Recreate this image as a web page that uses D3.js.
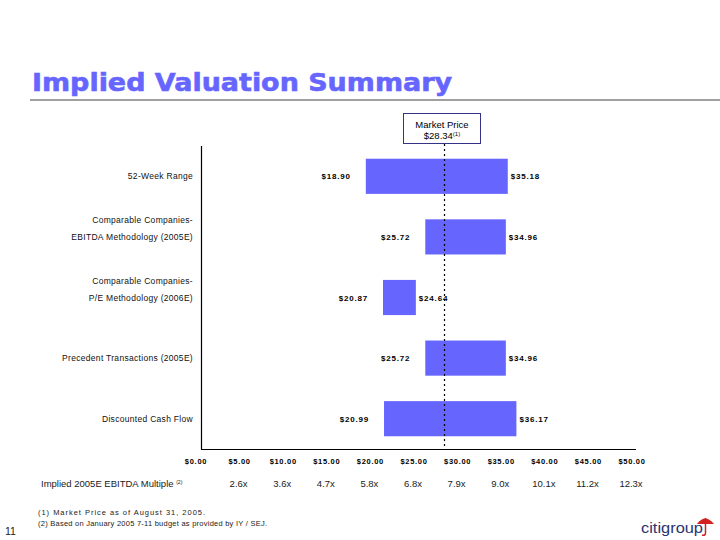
<!DOCTYPE html>
<html><head><meta charset="utf-8">
<script src="https://cdn.jsdelivr.net/npm/d3@7"></script>
<style>body{margin:0;background:#fff;} svg{display:block;font-family:"Liberation Sans",Arial,sans-serif;}</style>
</head><body><svg id="c" width="720" height="540"></svg>
<script>
const categories = [
  ["52-Week Range"],
  ["Comparable Companies-", "EBITDA Methodology (2005E)"],
  ["Comparable Companies-", "P/E Methodology (2006E)"],
  ["Precedent Transactions (2005E)"],
  ["Discounted Cash Flow"]
];
const lowValues  = [18.90, 25.72, 20.87, 25.72, 20.99];
const highValues = [35.18, 34.96, 24.64, 34.96, 36.17];
const marketPrice = 28.34;
const tickValues = [0, 5, 10, 15, 20, 25, 30, 35, 40, 45, 50];
const multiples = ["", "2.6x", "3.6x", "4.7x", "5.8x", "6.8x", "7.9x", "9.0x", "10.1x", "11.2x", "12.3x"];
const footnotes = ["(1) Market Price as of August 31, 2005.", "(2) Based on January 2005 7-11 budget as provided by IY / SEJ."];
const footnoteWidths = [167, 229];

const svg = d3.select("#c");
const blue = "#6666ff";
const x = d3.scaleLinear().domain([0, 50]).range([201, 637]);
const y = d3.scaleBand().domain(d3.range(categories.length)).range([146, 449]).paddingInner(0.42).paddingOuter(0.21);

// Title
svg.append("text").attr("x", 32).attr("y", 91).attr("fill", blue)
  .attr("font-family", "'DejaVu Sans', Arial, sans-serif").attr("font-weight", "bold")
  .attr("font-size", 25).attr("textLength", 420).attr("lengthAdjust", "spacingAndGlyphs")
  .attr("stroke", blue).attr("stroke-width", 0.6)
  .text("Implied Valuation Summary");
svg.append("rect").attr("x", 30).attr("y", 99).attr("width", 690).attr("height", 2).attr("fill", "#a0a0a0");

// Bars
const g = svg.append("g");
categories.forEach((c, i) => {
  const by = y(i), bh = y.bandwidth();
  g.append("rect").attr("x", x(lowValues[i])).attr("y", by).attr("width", x(highValues[i]) - x(lowValues[i])).attr("height", bh).attr("fill", blue);
  g.append("text").attr("x", x(lowValues[i]) - 15).attr("y", by + bh / 2 + 3).attr("text-anchor", "end")
    .attr("font-size", 8).attr("font-weight", "bold").attr("letter-spacing", 0.8).text("$" + lowValues[i].toFixed(2));
  g.append("text").attr("x", x(highValues[i]) + 3).attr("y", by + bh / 2 + 3).attr("text-anchor", "start")
    .attr("font-size", 8).attr("font-weight", "bold").attr("letter-spacing", 0.8).text("$" + highValues[i].toFixed(2));
  const cy = by + bh / 2 + 3;
  c.forEach((line, j) => {
    g.append("text").attr("x", 193).attr("y", cy - (c.length - 1 - j) * 17).attr("text-anchor", "end")
      .attr("font-size", 8.5).attr("letter-spacing", 0.3).attr("fill", "#111").text(line);
  });
});

// Axes lines
svg.append("line").attr("x1", 201.5).attr("x2", 201.5).attr("y1", 146).attr("y2", 449.5).attr("stroke", "#000").attr("stroke-width", 1.2);
svg.append("line").attr("x1", 201).attr("x2", 636).attr("y1", 449.5).attr("y2", 449.5).attr("stroke", "#000").attr("stroke-width", 1.2);

// Market price line and box
const mx = Math.round(x(marketPrice)) - 3.5;
svg.append("line").attr("x1", mx).attr("x2", mx).attr("y1", 144).attr("y2", 449).attr("stroke", "#000").attr("stroke-width", 1.2).attr("stroke-dasharray", "2,3");
svg.append("rect").attr("x", 403.5).attr("y", 113.5).attr("width", 77).attr("height", 30).attr("fill", "#fff").attr("stroke", "#333388").attr("stroke-width", 1);
svg.append("text").attr("x", 442).attr("y", 128).attr("text-anchor", "middle").attr("font-size", 9.5).text("Market Price");
const mp = svg.append("text").attr("x", 442).attr("y", 139).attr("text-anchor", "middle").attr("font-size", 9.5);
mp.append("tspan").text("$" + marketPrice.toFixed(2));
mp.append("tspan").attr("font-size", 6).attr("dy", -3).text("(1)");

// Tick labels and multiples
tickValues.forEach((t, i) => {
  svg.append("text").attr("x", x(t) - 5).attr("y", 464).attr("text-anchor", "middle").attr("font-size", 7.5)
    .attr("font-weight", "bold").attr("letter-spacing", 0.7).text("$" + t.toFixed(2));
  if (multiples[i]) svg.append("text").attr("x", x(t) - 6).attr("y", 487).attr("text-anchor", "middle").attr("font-size", 9.5).attr("fill", "#222").text(multiples[i]);
});
const ml = svg.append("text").attr("x", 41).attr("y", 487).attr("font-size", 9.5).attr("fill", "#222");
ml.append("tspan").text("Implied 2005E EBITDA Multiple ");
ml.append("tspan").attr("font-size", 5).attr("dy", -3).text("(2)");

// Footnotes
footnotes.forEach((f, i) => {
  svg.append("text").attr("x", 38).attr("y", 515 + i * 11).attr("font-size", 7.5).attr("fill", "#222")
    .attr("textLength", footnoteWidths[i]).attr("lengthAdjust", "spacing").text(f);
});
svg.append("text").attr("x", 5).attr("y", 535).attr("font-size", 10.5).attr("fill", "#222").text("11");

// citigroup logo
svg.append("text").attr("x", 641).attr("y", 533).attr("font-size", 15).attr("fill", "#2a3470")
  .attr("textLength", 62).attr("lengthAdjust", "spacingAndGlyphs").text("citigroup");
svg.append("path").attr("d", "M697,524 Q705,513 714,524 Z").attr("fill", "#d42020");
svg.append("path").attr("d", "M705.5,518 L705.5,533 Q705.5,536 702,535").attr("fill", "none").attr("stroke", "#d42020").attr("stroke-width", 1.5);
</script></body></html>
